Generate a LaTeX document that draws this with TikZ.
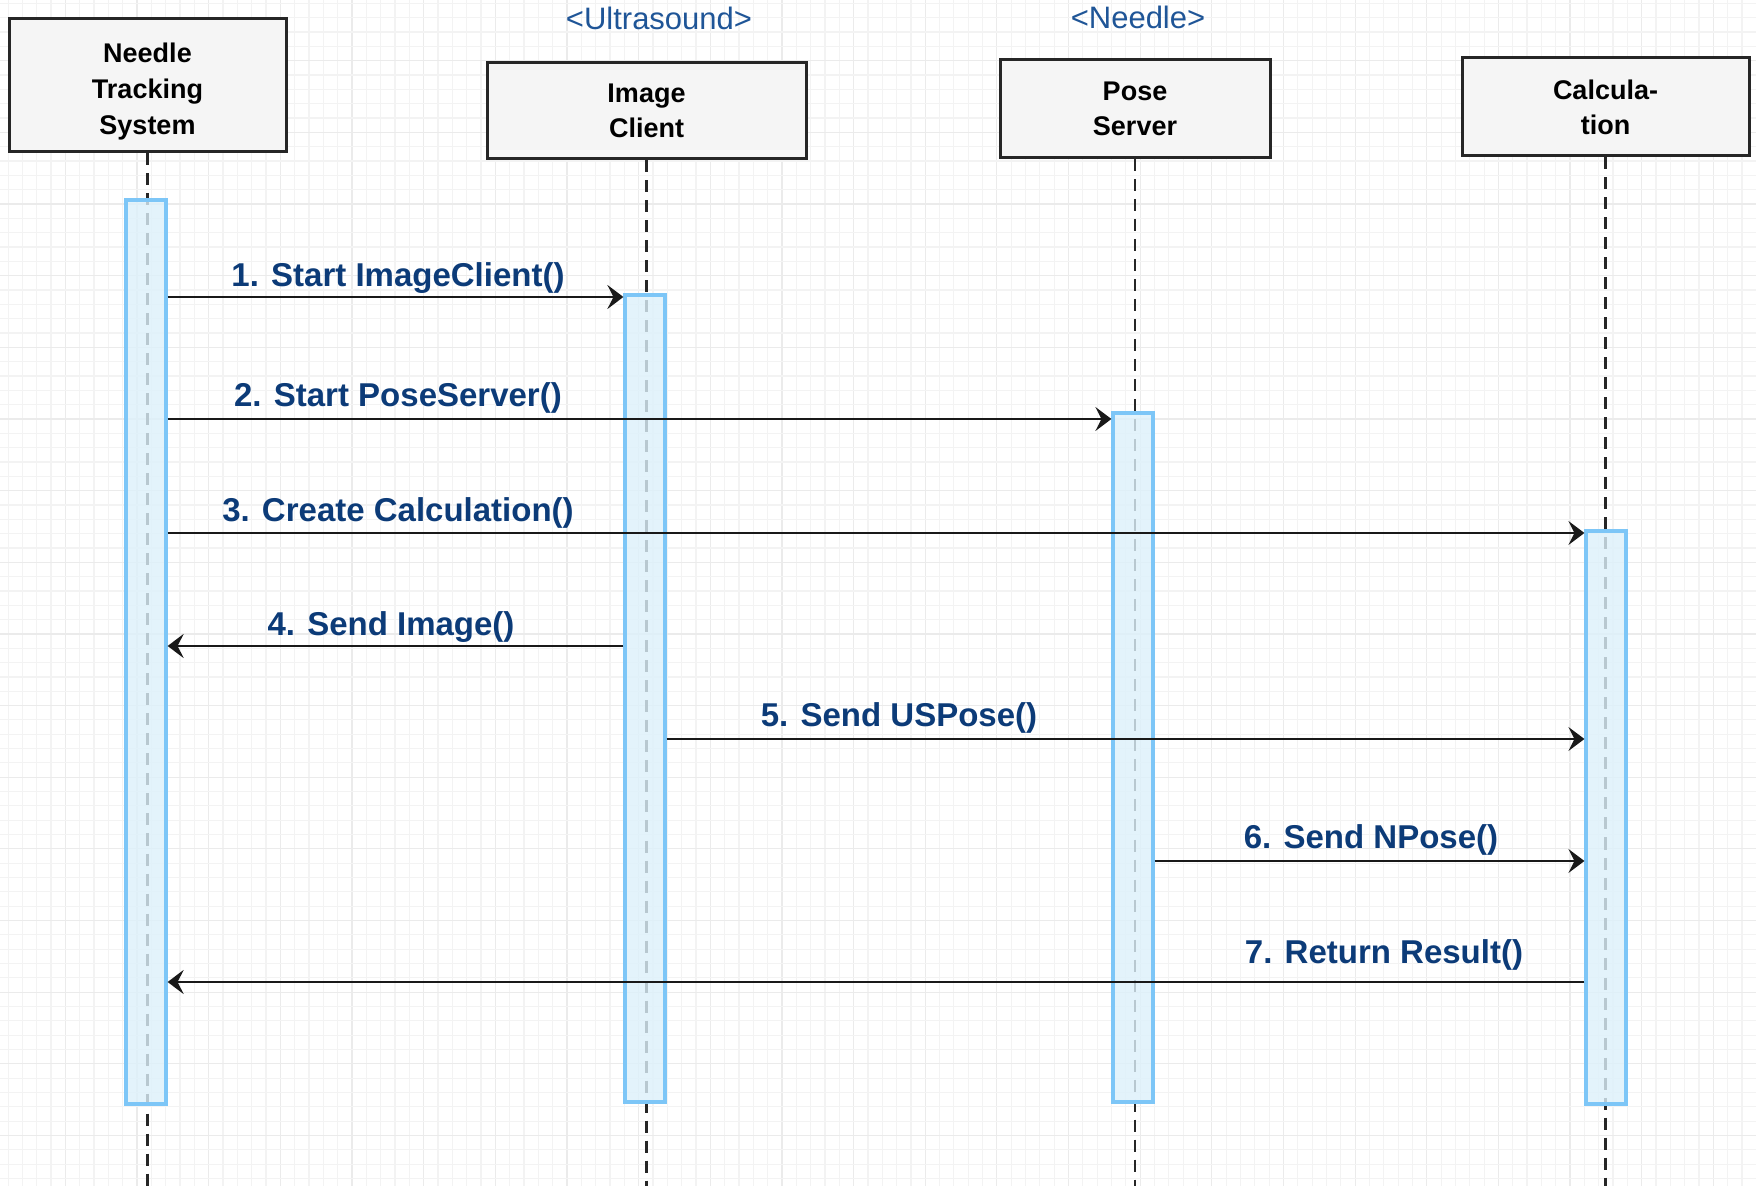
\documentclass[tikz,border=0pt]{standalone}
\usepackage{fontspec}
\setmainfont{Liberation Sans}
\usetikzlibrary{arrows.meta}
\definecolor{gridminor}{HTML}{F3F3F3}
\definecolor{gridmajor}{HTML}{EBEBEB}
\definecolor{boxfill}{HTML}{F5F5F5}
\definecolor{barfill}{HTML}{DDF1FB}
\definecolor{barline}{HTML}{7DC6F7}
\definecolor{msgtext}{HTML}{0C3B78}
\definecolor{stereo}{HTML}{1F5597}
\tikzset{
  actor/.style={draw=black!85, line width=1.5pt, fill=boxfill, align=center,
    font=\fontsize{13.5}{17.5}\selectfont\bfseries, inner sep=0pt},
  lifeline/.style={draw=black!85, line width=1.1pt, dash pattern=on 6pt off 4pt},
  actbar/.style={draw=barline, line width=1.6pt, fill=barfill, fill opacity=0.8,
    minimum width=20pt, inner sep=0pt},
  msg/.style={draw=black!90, line width=1pt, -{Stealth[length=8pt,width=12pt,inset=3pt]}},
  msglabel/.style={text=msgtext, font=\fontsize{16.5}{19}\selectfont\bfseries, inner sep=0pt},
  stereotype/.style={text=stereo, font=\fontsize{15.5}{18}\selectfont, inner sep=0pt}
}
\begin{document}
\begin{tikzpicture}[x=0.5pt,y=-0.5pt]
\useasboundingbox (0,0) rectangle (1756,1186);
\fill[white] (0,0) rectangle (1756,1186);
% grid
\foreach \i in {0,...,122} {
  \pgfmathtruncatemacro{\m}{mod(\i,5)}
  \ifnum\m=4 \def\gc{gridmajor}\else\def\gc{gridminor}\fi
  \draw[\gc, line width=0.6pt] ({8.1+\i*14.33},0) -- ({8.1+\i*14.33},1186);
}
\foreach \i in {0,...,83} {
  \pgfmathtruncatemacro{\m}{mod(\i,5)}
  \ifnum\m=4 \def\gc{gridmajor}\else\def\gc{gridminor}\fi
  \draw[\gc, line width=0.6pt] (0,{3.4+\i*14.33}) -- (1756,{3.4+\i*14.33});
}
% actors
\node[actor, minimum width=138.5pt, minimum height=66.5pt] (nts) at (147.5,85.5) {\raisebox{-3pt}[\height][\depth]{\begin{tabular}{@{}c@{}}Needle\\[0.5pt]Tracking\\[0.5pt]System\end{tabular}}};
\node[actor, minimum width=159.5pt, minimum height=48pt] (ic) at (646.5,111) {Image\\Client};
\node[actor, minimum width=135pt, minimum height=49pt] (ps) at (1135,109) {Pose\\Server};
\node[actor, minimum width=143.5pt, minimum height=49pt] (calc) at (1605.5,107) {Calcula-\\tion};
\node[stereotype] (st1) at (659,18) {<Ultrasound>};
\node[stereotype] (st2) at (1138,17) {<Needle>};
% lifeline ends
\coordinate (bottom) at (0,1186);
\draw[lifeline] (nts.south) -- (nts.south |- bottom);
\draw[lifeline] (ic.south) -- (ic.south |- bottom);
\draw[lifeline] (ps.south) -- (ps.south |- bottom);
\draw[lifeline] (calc.south) -- (calc.south |- bottom);
% activation bars
\node[actbar, minimum height=452pt] (a1) at (146,652) {};
\node[actbar, minimum height=403.5pt] (a2) at (645,698.5) {};
\node[actbar, minimum height=344.5pt] (a3) at (1133,757.5) {};
\node[actbar, minimum height=286.5pt] (a4) at (1606,817.5) {};
% message rows
\coordinate (m1) at (0,297);
\coordinate (m2) at (0,419);
\coordinate (m3) at (0,533);
\coordinate (m4) at (0,646);
\coordinate (m5) at (0,739);
\coordinate (m6) at (0,861);
\coordinate (m7) at (0,982);
\draw[msg] (a1.east |- m1) -- (a2.west |- m1);
\draw[msg] (a1.east |- m2) -- (a3.west |- m2);
\draw[msg] (a1.east |- m3) -- (a4.west |- m3);
\draw[msg] (a2.west |- m4) -- (a1.east |- m4);
\draw[msg] (a2.east |- m5) -- (a4.west |- m5);
\draw[msg] (a3.east |- m6) -- (a4.west |- m6);
\draw[msg] (a4.west |- m7) -- (a1.east |- m7);
% labels
\node[msglabel] (l1) at (398,278) {1. Start ImageClient()};
\node[msglabel] (l2) at (398,398) {2. Start PoseServer()};
\node[msglabel] (l3) at (398,513) {3. Create Calculation()};
\node[msglabel] (l4) at (391,627) {4. Send Image()};
\node[msglabel] (l5) at (899,718) {5. Send USPose()};
\node[msglabel] (l6) at (1371,840) {6. Send NPose()};
\node[msglabel] (l7) at (1384,955) {7. Return Result()};
\end{tikzpicture}
\end{document}
